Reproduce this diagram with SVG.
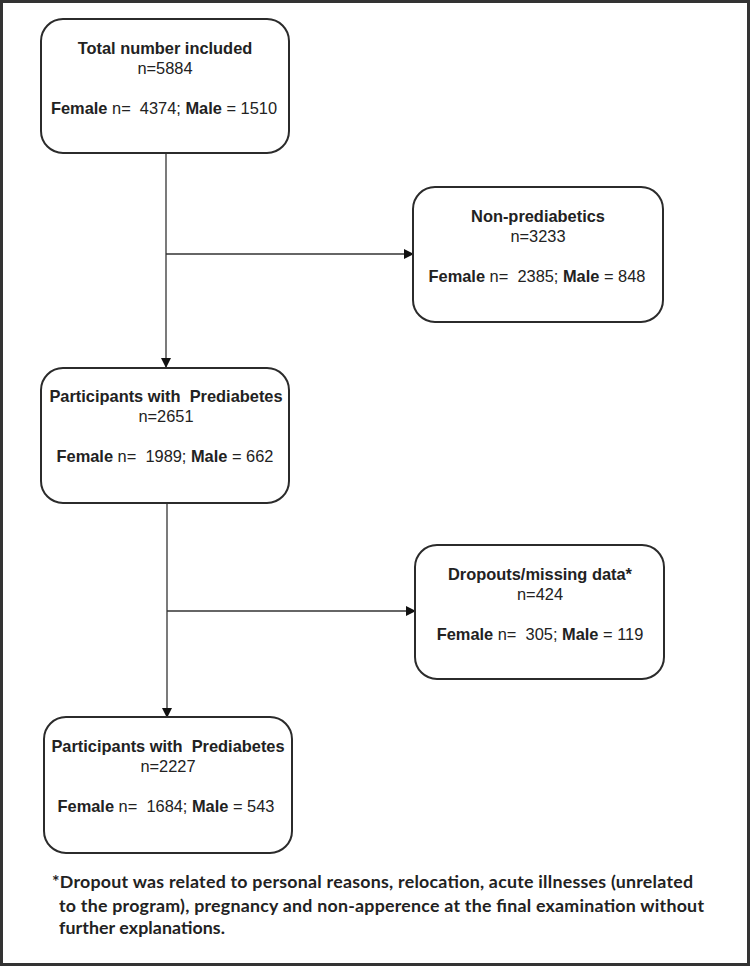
<svg xmlns="http://www.w3.org/2000/svg" width="750" height="966" viewBox="0 0 750 966">
<defs>
<style>
.box{fill:#fff;stroke:#2b2b2b;stroke-width:2}
.t{font-family:"Liberation Sans",Arial,sans-serif;font-size:16.4px;fill:#222;text-anchor:middle}
.b{font-weight:bold}
.ln{stroke:#333;stroke-width:1.3;fill:none}
.fn{font-family:Lato,"Open Sans",sans-serif;font-size:17.8px;font-weight:bold;fill:#222}
</style>
<marker id="ah" markerWidth="10" markerHeight="10" refX="9" refY="5" orient="auto" markerUnits="userSpaceOnUse">
<path d="M0,0 L10,5 L0,10 Z" fill="#111"/>
</marker>
</defs>
<rect x="0" y="0" width="750" height="966" fill="#fff"/>
<rect x="1.5" y="1.5" width="747" height="963" fill="none" stroke="#333" stroke-width="3"/>

<g id="connectors">
<line class="ln" x1="166" y1="153" x2="166" y2="367" marker-end="url(#ah)"/>
<line class="ln" x1="166" y1="254" x2="413" y2="254" marker-end="url(#ah)"/>
<line class="ln" x1="167" y1="503" x2="167" y2="717" marker-end="url(#ah)"/>
<line class="ln" x1="167" y1="611" x2="415" y2="611" marker-end="url(#ah)"/>
</g>

<g id="n_total">
<rect class="box" x="41" y="19" width="248" height="134" rx="22"/>
<text class="t b" x="165" y="54">Total number included</text>
<text class="t" x="165" y="74">n=5884</text>
<text class="t" x="164" y="114"><tspan class="b">Female</tspan> n=&#160; 4374; <tspan class="b">Male</tspan> = 1510</text>
</g>

<g id="n_nonpre">
<rect class="box" x="413" y="187" width="250" height="135" rx="22"/>
<text class="t b" x="538" y="222">Non-prediabetics</text>
<text class="t" x="538" y="242">n=3233</text>
<text class="t" x="537" y="282"><tspan class="b">Female</tspan> n=&#160; 2385; <tspan class="b">Male</tspan> = 848</text>
</g>

<g id="n_pre1">
<rect class="box" x="41" y="368" width="248" height="135" rx="22"/>
<text class="t b" x="166" y="402">Participants with&#160; Prediabetes</text>
<text class="t" x="166" y="422">n=2651</text>
<text class="t" x="165" y="462"><tspan class="b">Female</tspan> n=&#160; 1989; <tspan class="b">Male</tspan> = 662</text>
</g>

<g id="n_dropout">
<rect class="box" x="415" y="545" width="249" height="134" rx="22"/>
<text class="t b" x="540" y="580">Dropouts/missing data*</text>
<text class="t" x="540" y="600">n=424</text>
<text class="t" x="540" y="640"><tspan class="b">Female</tspan> n=&#160; 305; <tspan class="b">Male</tspan> = 119</text>
</g>

<g id="n_pre2">
<rect class="box" x="44" y="717" width="248" height="136" rx="22"/>
<text class="t b" x="168" y="752">Participants with&#160; Prediabetes</text>
<text class="t" x="168" y="772">n=2227</text>
<text class="t" x="166" y="812"><tspan class="b">Female</tspan> n=&#160; 1684; <tspan class="b">Male</tspan> = 543</text>
</g>

<g id="footnote">
<text class="fn" x="52" y="888" textLength="641" lengthAdjust="spacing">*Dropout was related to personal reasons, relocation, acute illnesses (unrelated</text>
<text class="fn" x="59" y="912" textLength="645" lengthAdjust="spacing">to the program), pregnancy and non-apperence at the final examination without</text>
<text class="fn" x="59" y="934" textLength="166" lengthAdjust="spacing">further explanations.</text>
</g>
</svg>
